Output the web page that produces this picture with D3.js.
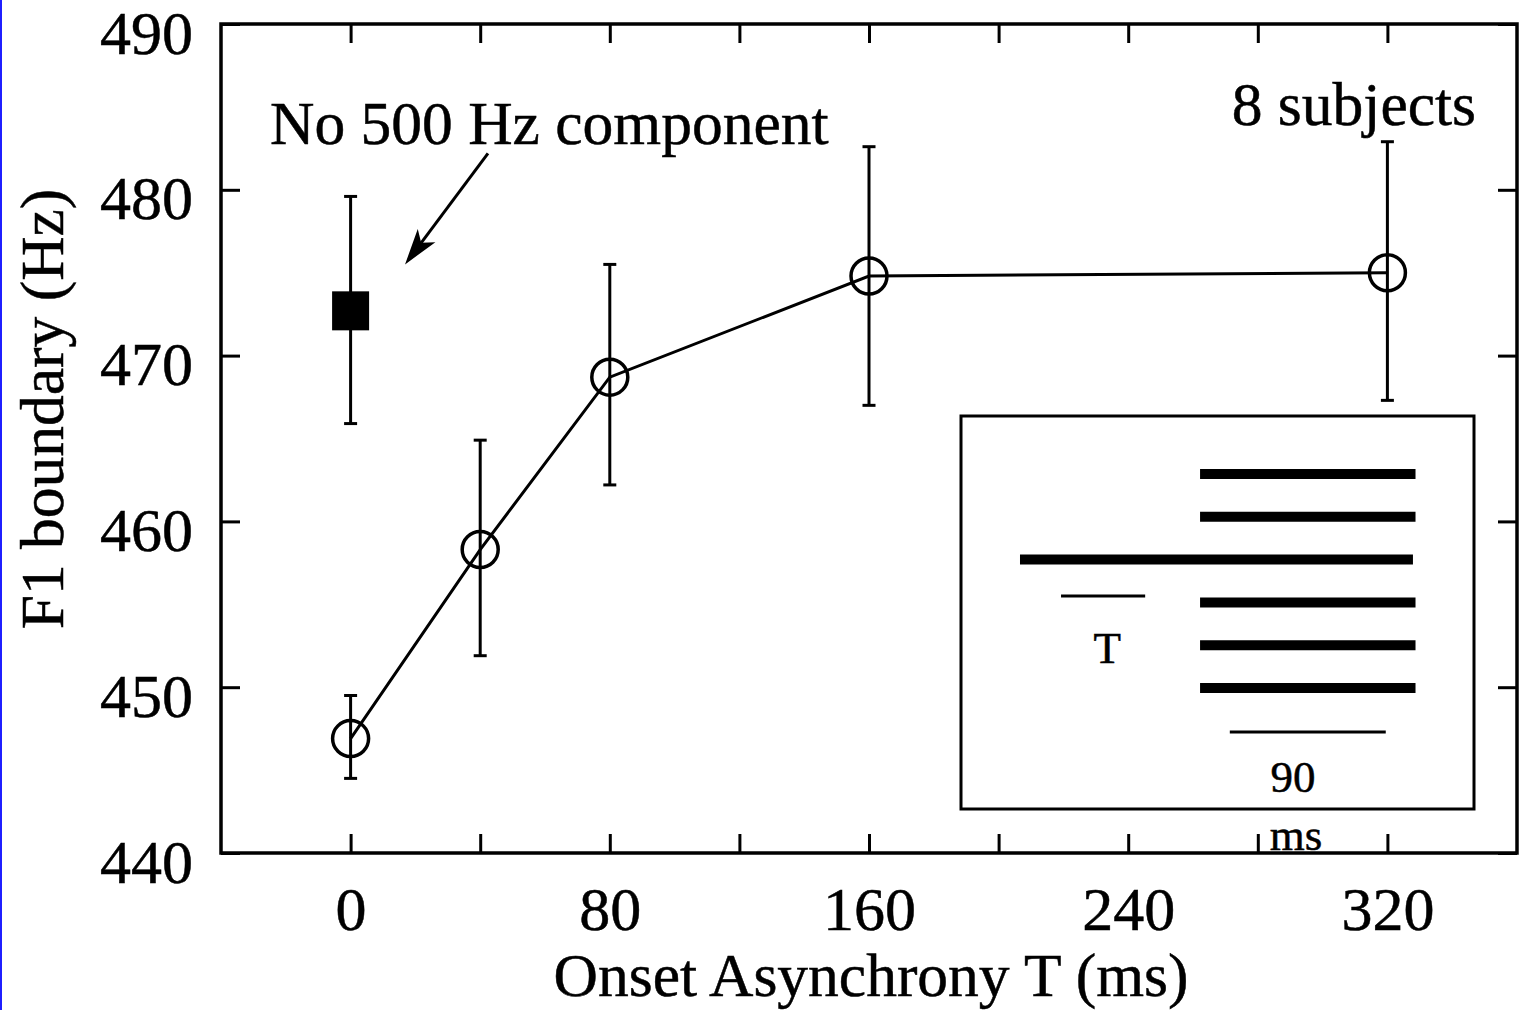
<!DOCTYPE html>
<html>
<head>
<meta charset="utf-8">
<script src="https://cdn.jsdelivr.net/npm/d3@7"></script>
<style>
  body { margin: 0; background: #fff; }
  svg { display: block; font-family: "Liberation Serif", "Times New Roman", serif; }
  text { stroke: #000; stroke-width: 0.5px; }
</style>
</head>
<body>
<svg id="chart" width="1521" height="1010"></svg>
<script>
// onset asynchrony T (ms) and the mean F1 boundary with its error bar
const asynchrony = [0, 40, 80, 160, 320];
const boundary = [446.9, 458.3, 468.7, 474.8, 475.0];
const errLow = [444.5, 451.9, 462.2, 467.0, 467.3];
const errHigh = [449.5, 464.9, 475.5, 482.6, 482.9];

// condition without the 500 Hz component
const controlT = [0];
const controlBoundary = [472.7];
const controlLow = [465.9];
const controlHigh = [479.6];

const xTicks = [0, 40, 80, 120, 160, 200, 240, 280, 320];
const xLabels = [0, 80, 160, 240, 320];
const yTicks = [440, 450, 460, 470, 480, 490];

// inset schematic: rows of harmonics, the third one starts T ms earlier
const insetRows = ['h1', 'h2', 'h3', 'h4', 'h5', 'h6'];
const insetLeadRow = 'h3';

const svg = d3.select('#chart');
const plotLeft = 221, plotRight = 1517, plotTop = 24, plotBottom = 853;

const x = d3.scaleLinear().domain([-40, 360]).range([plotLeft, plotRight]);
const y = d3.scaleLinear().domain([440, 490]).range([plotBottom, plotTop]);

// page border on the left
svg.append('rect').attr('x', 0).attr('y', 0).attr('width', 2).attr('height', 1010).attr('fill', '#1f1fff');

// axes with inward ticks
const fmtX = d => xLabels.includes(d) ? d : '';
const gx = svg.append('g').attr('transform', `translate(0,${plotBottom})`)
    .call(d3.axisBottom(x).tickValues(xTicks).tickFormat(fmtX).tickSizeInner(-19).tickSizeOuter(0));
svg.append('g').attr('transform', `translate(0,${plotTop})`)
    .call(d3.axisTop(x).tickValues(xTicks).tickFormat('').tickSizeInner(-19).tickSizeOuter(0));
const gy = svg.append('g').attr('transform', `translate(${plotLeft},0)`)
    .call(d3.axisLeft(y).tickValues(yTicks).tickSizeInner(-19).tickSizeOuter(0));
svg.append('g').attr('transform', `translate(${plotRight},0)`)
    .call(d3.axisRight(y).tickValues(yTicks).tickFormat('').tickSizeInner(-19).tickSizeOuter(0));

svg.selectAll('.tick line').attr('stroke', '#000').attr('stroke-width', 3);
svg.selectAll('.domain').remove();

gx.selectAll('text').attr('y', 77).attr('dy', null)
    .attr('font-size', 62).attr('font-family', 'Liberation Serif').attr('fill', '#000');
gy.selectAll('text').attr('x', -28).attr('dy', null).attr('y', 29)
    .attr('font-size', 62).attr('font-family', 'Liberation Serif').attr('fill', '#000');

svg.append('rect').attr('x', plotLeft).attr('y', plotTop)
    .attr('width', plotRight - plotLeft).attr('height', plotBottom - plotTop)
    .attr('fill', 'none').attr('stroke', '#000').attr('stroke-width', 3.5);

// axis titles
svg.append('text').attr('x', 871).attr('y', 996).attr('text-anchor', 'middle')
    .attr('font-size', 61.5).text('Onset Asynchrony T (ms)');
svg.append('text').attr('transform', 'translate(63,409) rotate(-90)').attr('text-anchor', 'middle')
    .attr('font-size', 61.5).text('F1 boundary (Hz)');

// main series
const pts = asynchrony.map((t, i) => ({ t, v: boundary[i], lo: errLow[i], hi: errHigh[i] }));
const ctrl = controlT.map((t, i) => ({ t, v: controlBoundary[i], lo: controlLow[i], hi: controlHigh[i] }));

function errorBars(data) {
    const g = svg.append('g').attr('stroke', '#000').attr('stroke-width', 3);
    g.selectAll('.stem').data(data).join('line')
        .attr('x1', d => x(d.t)).attr('x2', d => x(d.t))
        .attr('y1', d => y(d.lo)).attr('y2', d => y(d.hi));
    g.selectAll('.capHi').data(data).join('line')
        .attr('x1', d => x(d.t) - 6.5).attr('x2', d => x(d.t) + 6.5)
        .attr('y1', d => y(d.hi)).attr('y2', d => y(d.hi));
    g.selectAll('.capLo').data(data).join('line')
        .attr('x1', d => x(d.t) - 6.5).attr('x2', d => x(d.t) + 6.5)
        .attr('y1', d => y(d.lo)).attr('y2', d => y(d.lo));
}
errorBars(pts);
errorBars(ctrl);

svg.append('path').datum(pts)
    .attr('d', d3.line().x(d => x(d.t)).y(d => y(d.v)))
    .attr('fill', 'none').attr('stroke', '#000').attr('stroke-width', 3);

svg.selectAll('.pt').data(pts).join('circle')
    .attr('cx', d => x(d.t)).attr('cy', d => y(d.v)).attr('r', 18)
    .attr('fill', 'none').attr('stroke', '#000').attr('stroke-width', 3.5);

svg.selectAll('.sq').data(ctrl).join('rect')
    .attr('x', d => x(d.t) - 18.5).attr('y', d => y(d.v) - 19.5)
    .attr('width', 37).attr('height', 39).attr('fill', '#000');

// annotations
svg.append('text').attr('x', 270).attr('y', 144).attr('font-size', 61.5).text('No 500 Hz component');
svg.append('text').attr('x', 1476).attr('y', 125).attr('text-anchor', 'end').attr('font-size', 61.5).text('8 subjects');

const tail = [x(42.4), y(482.2)], tip = [x(16.8), y(475.5)];
const dx = tip[0] - tail[0], dy = tip[1] - tail[1], len = Math.hypot(dx, dy);
const ux = dx / len, uy = dy / len, px = -uy, py = ux;
const headLen = 36, headW = 11, notch = 27;
svg.append('line').attr('x1', tail[0]).attr('y1', tail[1])
    .attr('x2', tip[0] - ux * notch).attr('y2', tip[1] - uy * notch)
    .attr('stroke', '#000').attr('stroke-width', 3);
svg.append('path').attr('d', d3.line()([
    tip,
    [tip[0] - ux * headLen + px * headW, tip[1] - uy * headLen + py * headW],
    [tip[0] - ux * notch, tip[1] - uy * notch],
    [tip[0] - ux * headLen - px * headW, tip[1] - uy * headLen - py * headW]
]) + 'Z').attr('fill', '#000');

// inset schematic (percent of box width)
const ix = d3.scaleLinear().domain([0, 100]).range([961, 1474]);
const iy = d3.scalePoint().domain(insetRows).range([474, 688]);
const inset = svg.append('g');
inset.append('rect').attr('x', ix(0)).attr('y', 416).attr('width', ix(100) - ix(0)).attr('height', 393)
    .attr('fill', '#fff').attr('stroke', '#000').attr('stroke-width', 3);
inset.selectAll('.harm').data(insetRows).join('line')
    .attr('x1', d => d === insetLeadRow ? ix(11.5) : ix(46.6))
    .attr('x2', d => d === insetLeadRow ? ix(88.1) : ix(88.6))
    .attr('y1', d => iy(d)).attr('y2', d => iy(d))
    .attr('stroke', '#000').attr('stroke-width', 10);
inset.append('line').attr('x1', ix(19.5)).attr('x2', ix(35.9)).attr('y1', 596).attr('y2', 596)
    .attr('stroke', '#000').attr('stroke-width', 3);
inset.append('text').attr('x', ix(28.5)).attr('y', 663).attr('text-anchor', 'middle')
    .attr('font-size', 45).text('T');
inset.append('line').attr('x1', ix(52.4)).attr('x2', ix(82.8)).attr('y1', 732).attr('y2', 732)
    .attr('stroke', '#000').attr('stroke-width', 3);
inset.append('text').attr('x', ix(64.7)).attr('y', 792).attr('text-anchor', 'middle')
    .attr('font-size', 45).text('90');
inset.append('text').attr('x', ix(65.3)).attr('y', 850).attr('text-anchor', 'middle')
    .attr('font-size', 45).text('ms');
</script>
</body>
</html>
